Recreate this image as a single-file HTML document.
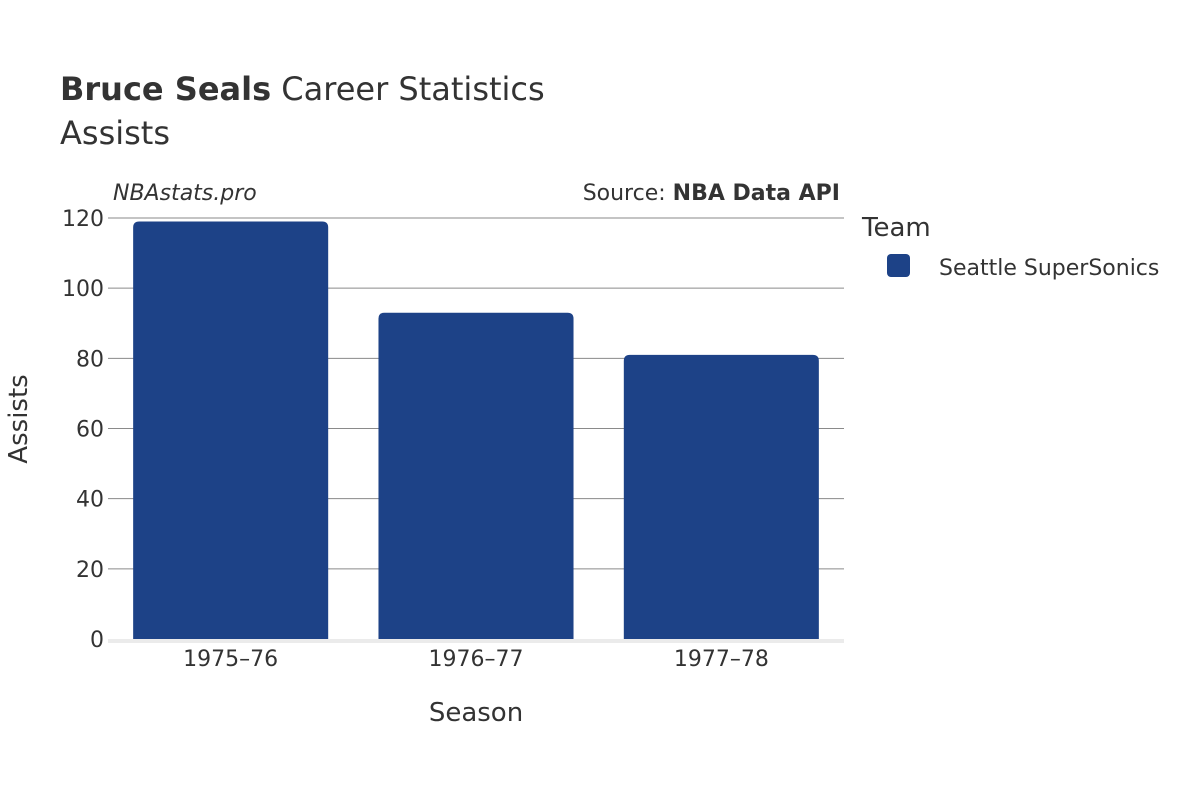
<!DOCTYPE html>
<html><head><meta charset="utf-8">
<style>
html,body{margin:0;padding:0;background:#fff;}
svg{display:block;font-family:"DejaVu Sans","Liberation Sans",sans-serif;}
</style></head>
<body>
<svg id="chart" width="1200" height="800" xmlns="http://www.w3.org/2000/svg">
  <rect width="1200" height="800" fill="#fff"/>
  <text x="60" y="100" font-size="32" fill="#333"><tspan font-weight="bold">Bruce Seals</tspan> Career Statistics</text>
  <text x="60" y="144" font-size="32" fill="#333">Assists</text>
  <text x="113" y="200" font-size="22" font-style="italic" fill="#333">NBAstats.pro</text>
  <text x="840" y="200" font-size="22" fill="#333" text-anchor="end">Source: <tspan font-weight="bold">NBA Data API</tspan></text>
  <g id="grid"></g>
  <g id="bars"></g>
  <g id="yticks"></g>
  <g id="xticks"></g>
  <text x="476" y="721" font-size="26" fill="#333" text-anchor="middle">Season</text>
  <text transform="translate(27,419) rotate(-90)" font-size="26" fill="#333" text-anchor="middle">Assists</text>
  <text x="862" y="236" font-size="26" fill="#333">Team</text>
  <g>
    <rect x="887" y="254" width="23" height="23" rx="4" fill="#1d4287"/>
    <text x="939" y="275" font-size="22" fill="#333">Seattle SuperSonics</text>
  </g>
</svg>
<script>
const categories = ["1975–76","1976–77","1977–78"];
const assists = [119, 93, 81];
const yTicks = [0,20,40,60,80,100,120];

const NS="http://www.w3.org/2000/svg";
const plotL=108, plotR=844, plotT=218, plotB=639, yMax=120;
const y = v => plotB - v/yMax*(plotB-plotT);
const band = (plotR-plotL)/categories.length;
const x = i => plotL + band*i;
const barW = band*0.795;
function mk(tag, attrs, parent){const e=document.createElementNS(NS,tag);for(const k in attrs)e.setAttribute(k,attrs[k]);parent.appendChild(e);return e;}
const grid=document.getElementById('grid'), bars=document.getElementById('bars'), yt=document.getElementById('yticks'), xt=document.getElementById('xticks');
yTicks.forEach(t=>{
  if(t>0){const l=mk('line',{x1:plotL,x2:plotR,y1:y(t),y2:y(t),stroke:'#8a8a8a','stroke-width':1},grid);
  
  }
  const tx=mk('text',{x:plotL-4,y:y(t)+8,'font-size':22,fill:'#333','text-anchor':'end'},yt);
  tx.textContent=t;
  
  
});
const base=mk('line',{x1:plotL,x2:plotR,y1:plotB+2,y2:plotB+2,stroke:'#ebebeb','stroke-width':4},grid);


assists.forEach((v,i)=>{
  const bx=x(i)+(band-barW)/2, top=y(v), h=plotB-top, r=6;
  const d=`M${bx},${plotB} L${bx},${top+r} Q${bx},${top} ${bx+r},${top} L${bx+barW-r},${top} Q${bx+barW},${top} ${bx+barW},${top+r} L${bx+barW},${plotB} Z`;
  const p=mk('path',{d:d,fill:'#1d4287'},bars);
  
  
  const tx=mk('text',{x:x(i)+band/2,y:666,'font-size':22,fill:'#333','text-anchor':'middle'},xt);
  tx.textContent=categories[i];
  
  
});
</script>
</body></html>
